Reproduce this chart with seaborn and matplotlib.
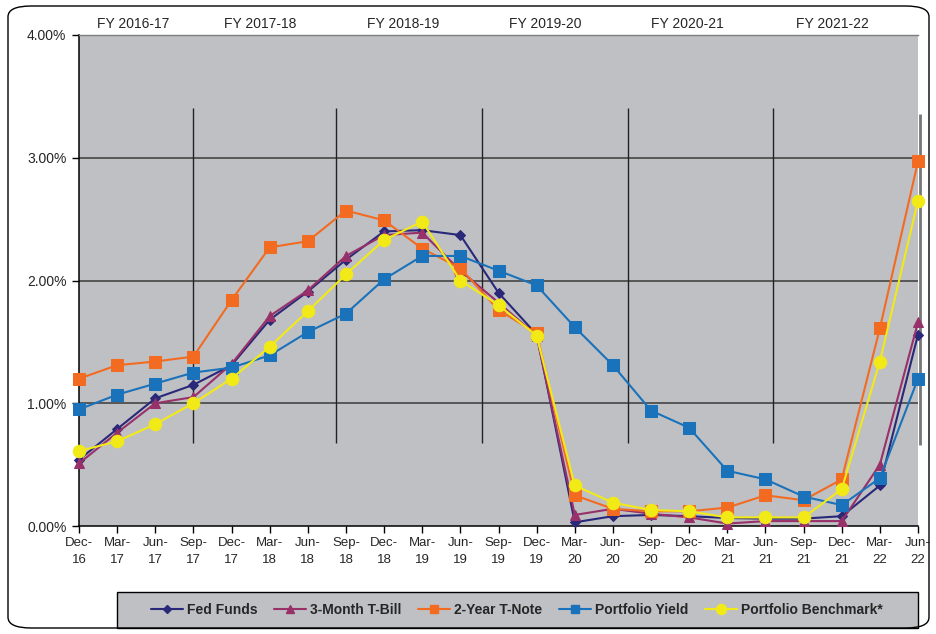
import matplotlib
matplotlib.use("Agg")
import matplotlib.pyplot as plt
import seaborn as sns
import pandas as pd
import numpy as np
from matplotlib.patches import FancyBboxPatch, Rectangle
from matplotlib.lines import Line2D

quarters = ["Dec-\n16", "Mar-\n17", "Jun-\n17", "Sep-\n17", "Dec-\n17", "Mar-\n18", "Jun-\n18", "Sep-\n18",
            "Dec-\n18", "Mar-\n19", "Jun-\n19", "Sep-\n19", "Dec-\n19", "Mar-\n20", "Jun-\n20", "Sep-\n20",
            "Dec-\n20", "Mar-\n21", "Jun-\n21", "Sep-\n21", "Dec-\n21", "Mar-\n22", "Jun-\n22"]

fed_funds = [0.54, 0.79, 1.04, 1.15, 1.31, 1.68, 1.91, 2.17, 2.40, 2.41, 2.37, 1.90, 1.56, 0.03, 0.08, 0.09,
             0.08, 0.065, 0.06, 0.06, 0.08, 0.33, 1.56]
t_bill_3m = [0.51, 0.76, 1.00, 1.05, 1.32, 1.71, 1.92, 2.20, 2.37, 2.39, 2.08, 1.82, 1.55, 0.09, 0.14, 0.10,
             0.07, 0.02, 0.04, 0.04, 0.04, 0.50, 1.66]
t_note_2y = [1.20, 1.31, 1.34, 1.38, 1.84, 2.27, 2.32, 2.57, 2.49, 2.26, 2.10, 1.76, 1.57, 0.25, 0.14, 0.12,
             0.12, 0.15, 0.25, 0.21, 0.38, 1.61, 2.97]
portfolio_yield = [0.95, 1.07, 1.16, 1.25, 1.29, 1.39, 1.58, 1.73, 2.01, 2.20, 2.20, 2.08, 1.96, 1.62, 1.31, 0.94,
                   0.80, 0.45, 0.38, 0.24, 0.17, 0.39, 1.20]
portfolio_benchmark = [0.61, 0.69, 0.83, 1.00, 1.20, 1.46, 1.75, 2.05, 2.33, 2.48, 2.00, 1.80, 1.55, 0.33, 0.19, 0.13,
                       0.12, 0.07, 0.07, 0.07, 0.30, 1.34, 2.65]

fiscal_years = ["FY 2016-17", "FY 2017-18", "FY 2018-19", "FY 2019-20", "FY 2020-21", "FY 2021-22"]
y_ticks = [0, 1, 2, 3, 4]
y_tick_labels = ["0.00%", "1.00%", "2.00%", "3.00%", "4.00%"]

series_names = ["Fed Funds", "3-Month T-Bill", "2-Year T-Note", "Portfolio Yield", "Portfolio Benchmark*"]
series_values = [fed_funds, t_bill_3m, t_note_2y, portfolio_yield, portfolio_benchmark]
colors = ["#2A2878", "#983069", "#F26B21", "#1A72BB", "#F2EA16"]
markers = ["D", "^", "s", "s", "o"]
msizes = [5, 7, 8, 8, 9]

rows = []
for name, vals in zip(series_names, series_values):
    for i, v in enumerate(vals):
        rows.append({"idx": i, "value": v, "series": name})
df = pd.DataFrame(rows)

sns.set_theme(style="white")
plt.rcParams["font.family"] = ["Liberation Sans", "DejaVu Sans"]

fig = plt.figure(figsize=(9.37, 6.34), dpi=100)
ax = fig.add_axes([79 / 937, 1 - 526 / 634, (918 - 79) / 937, (526 - 35) / 634])
bg = "#BFC0C4"
ax.set_facecolor(bg)

for name, col, mk, ms in zip(series_names, colors, markers, msizes):
    sub = df[df["series"] == name]
    sns.lineplot(data=sub, x="idx", y="value", ax=ax, color=col, marker=mk, markersize=ms,
                 markeredgecolor=col, linewidth=1.5, label=name, zorder=3, legend=False)
for ln in ax.lines:
    ln.set_clip_on(False)

n = len(quarters)
ax.set_xlim(0, n - 1)
ax.set_ylim(0, 4)
ax.set_yticks(y_ticks)
ax.set_yticklabels(y_tick_labels, fontsize=10)
ax.set_xticks(range(n))
ax.set_xticklabels(quarters, fontsize=9.5, linespacing=1.5)
ax.set_xlabel("")
ax.set_ylabel("")
ax.tick_params(axis="both", direction="out", length=5, width=1, color="black", bottom=True, left=True)
ax.tick_params(axis="x", pad=3)
ax.tick_params(axis="y", pad=4)

for y in [1, 2, 3]:
    ax.axhline(y, color="#3a3a3a", linewidth=1.1, zorder=1)

# fiscal year separators
fy_sep = [2.99, 6.74, 10.57, 14.40, 18.20]
ax.vlines(fy_sep, 0.676, 3.405, color="#222222", linewidth=1.0, zorder=1)
ax.vlines([n - 1 + 0.05], 0.66, 3.36, color="#777777", linewidth=2.0, zorder=1, clip_on=False)

for s in ["left", "bottom"]:
    ax.spines[s].set_color("black")
    ax.spines[s].set_linewidth(1.1)
ax.spines["top"].set_color("#7d7d7d")
ax.spines["top"].set_linewidth(1.0)
ax.spines["right"].set_visible(False)

# FY labels
fy_centers = [133, 260, 403, 545, 687, 832]
for lab, xc in zip(fiscal_years, fy_centers):
    fig.text(xc / 937, 1 - 24 / 634, lab, ha="center", va="center", fontsize=10)

# outer rounded border
frame = FancyBboxPatch((8 / 937, 6 / 634), (929 - 8) / 937, (628 - 6) / 634,
                       boxstyle="round,pad=0,rounding_size=0.025", transform=fig.transFigure,
                       fill=False, edgecolor="black", linewidth=1.0, mutation_aspect=634 / 937)
fig.patches.append(frame)

# legend box
lbox = Rectangle((117 / 937, 1 - 628 / 634), (918 - 117) / 937, 36 / 634, transform=fig.transFigure,
                 facecolor=bg, edgecolor="black", linewidth=1.0, zorder=0)
fig.patches.append(lbox)

handles = [Line2D([0], [0], color=c, marker=m, markersize=ms * 0.8, markeredgecolor=c, linewidth=1.5)
           for c, m, ms in zip(colors, markers, msizes)]
leg = fig.legend(handles, series_names, loc="center", ncol=5,
                 bbox_to_anchor=(517 / 937, 1 - 610 / 634),
                 frameon=False, handlelength=2.3, handletextpad=0.3, columnspacing=1.2,
                 prop={"weight": "bold", "size": 10}, borderaxespad=0)

fig.savefig("out.png", dpi=100)
